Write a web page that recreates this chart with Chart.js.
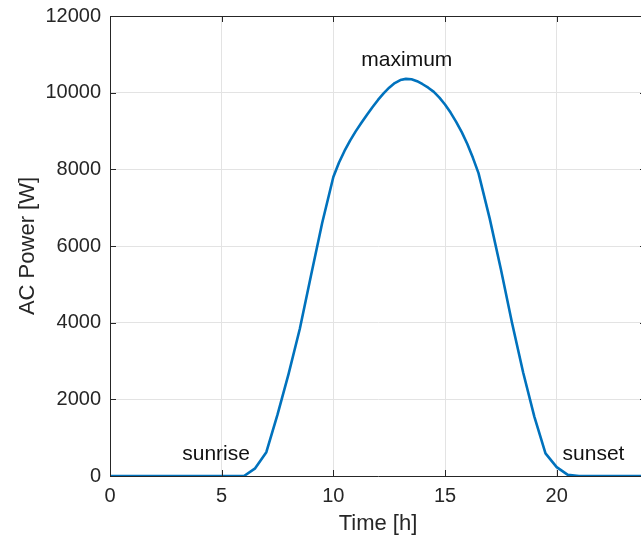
<!DOCTYPE html>
<html>
<head>
<meta charset="utf-8">
<script src="https://cdn.jsdelivr.net/npm/chart.js@4/dist/chart.umd.min.js"></script>
<style>
  html, body { margin: 0; padding: 0; background: #fff; overflow: hidden; width: 641px; height: 539px; }
  #wrap { width: 660px; height: 539px; }
</style>
</head>
<body>
<div id="wrap"><canvas id="c" width="660" height="539"></canvas></div>
<script>
// ---- data ----
const hours = [0,0.5,1,1.5,2,2.5,3,3.5,4,4.5,5,5.5,6,6.5,7,7.5,8,8.5,9,9.5,
  10,10.25,10.5,10.75,11,11.25,11.5,11.75,12,12.25,12.5,12.75,13,13.25,13.5,13.75,14,14.25,14.5,14.75,15,15.25,15.5,15.75,16,16.25,16.5,
  17,17.5,18,18.5,19,19.5,20,20.5,21,21.5,22,22.5,23,23.5,24];
const acPower = [0,0,0,0,0,0,0,0,0,0,0,0,0,200,620,1600,2670,3840,5230,6600,
  7800,8170,8480,8750,8990,9210,9420,9620,9810,9980,10130,10250,10330,10360,10350,10300,10220,10130,10020,9870,9690,9480,9240,8970,8660,8300,7900,
  6720,5400,4000,2700,1550,590,230,30,0,0,0,0,0,0,0];
const xTicks = [0,5,10,15,20];
const yTicks = [0,2000,4000,6000,8000,10000,12000];
const noteText = ['sunrise','maximum','sunset'];
const noteX = [4.75, 13.29, 21.65];
const noteY = [566, 10840, 566];

const FONT = '"Liberation Sans", Arial, Helvetica, sans-serif';
const AXIS = '#262626';

const matlabBox = {
  id: 'matlabBox',
  afterDraw(chart) {
    const {ctx, chartArea: a, scales: {x, y}} = chart;
    ctx.save();
    ctx.strokeStyle = AXIS;
    ctx.lineWidth = 1;
    ctx.beginPath();
    ctx.moveTo(a.left, Math.round(a.top) + 0.5);
    ctx.lineTo(a.right, Math.round(a.top) + 0.5);
    const tl = 6;
    xTicks.forEach(v => {
      const px = Math.round(x.getPixelForValue(v)) + 0.5;
      ctx.moveTo(px, a.bottom); ctx.lineTo(px, a.bottom - tl);
      ctx.moveTo(px, a.top); ctx.lineTo(px, a.top + tl);
    });
    yTicks.forEach(v => {
      const py = Math.round(y.getPixelForValue(v)) + 0.5;
      ctx.moveTo(a.left, py); ctx.lineTo(a.left + tl, py);
      ctx.moveTo(a.right, py); ctx.lineTo(a.right - tl, py);
    });
    ctx.stroke();
    ctx.fillStyle = '#111';
    ctx.font = '21px ' + FONT;
    ctx.textAlign = 'center';
    ctx.textBaseline = 'middle';
    noteText.forEach((t, i) => {
      ctx.fillText(t, x.getPixelForValue(noteX[i]), y.getPixelForValue(noteY[i]));
    });
    ctx.restore();
  }
};

new Chart(document.getElementById('c'), {
  type: 'line',
  data: {
    datasets: [{
      data: hours.map((h, i) => ({x: h, y: acPower[i]})),
      borderColor: '#0072BD',
      borderWidth: 2.6,
      pointRadius: 0,
      tension: 0,
      borderJoinStyle: 'round',
      fill: false
    }]
  },
  options: {
    responsive: false,
    animation: false,
    devicePixelRatio: 1,
    layout: { padding: { top: 16, right: 14, left: 0, bottom: 0 } },
    plugins: { legend: { display: false }, tooltip: { enabled: false } },
    scales: {
      x: {
        type: 'linear', min: 0, max: 24,
        afterBuildTicks: s => { s.ticks = xTicks.map(v => ({value: v})); },
        afterFit: s => { s.height = 63; s.paddingLeft = 0; s.paddingRight = 0; },
        ticks: { callback: v => String(v), color: AXIS, font: { family: FONT, size: 20 }, padding: 8, maxRotation: 0 },
        grid: { color: '#e3e3e3', drawTicks: false, lineWidth: 1 },
        border: { color: AXIS, width: 1 },
        title: { display: true, text: 'Time [h]', color: AXIS, font: { family: FONT, size: 22 }, padding: { top: 0, bottom: 2 } }
      },
      y: {
        type: 'linear', min: 0, max: 12000,
        afterBuildTicks: s => { s.ticks = yTicks.map(v => ({value: v})); },
        afterFit: s => { s.width = 110; s.paddingTop = 0; s.paddingBottom = 0; },
        ticks: { callback: v => String(v), color: AXIS, font: { family: FONT, size: 20 }, padding: 9 },
        grid: { color: '#e3e3e3', drawTicks: false, lineWidth: 1 },
        border: { color: AXIS, width: 1 },
        title: { display: true, text: 'AC Power [W]', color: AXIS, font: { family: FONT, size: 22 }, padding: { top: 15, bottom: 0 } }
      }
    }
  },
  plugins: [matlabBox]
});
</script>
</body>
</html>
